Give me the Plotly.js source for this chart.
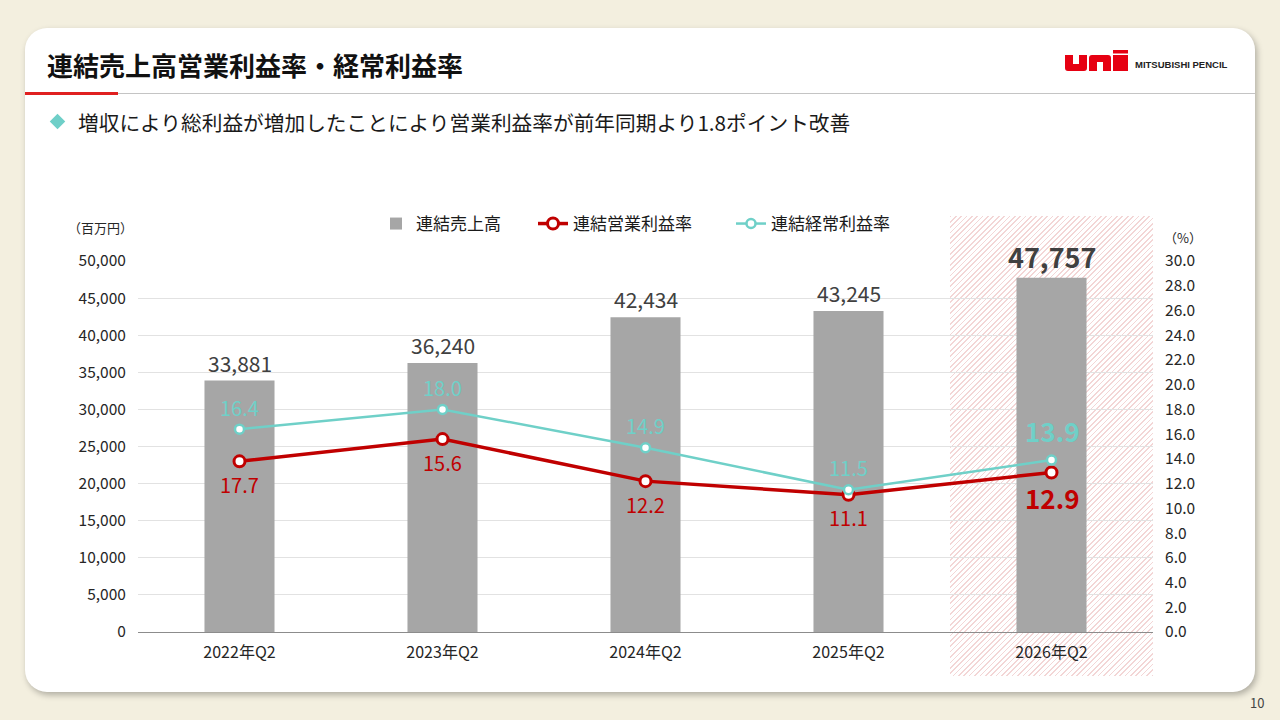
<!DOCTYPE html>
<html><head><meta charset="utf-8">
<script src="https://cdn.plot.ly/plotly-3.0.1.min.js"></script>
<style>
body{margin:0;width:1280px;height:720px;overflow:hidden;background:#f3efdf;font-family:"Noto Sans CJK JP","Noto Sans",sans-serif;position:relative}
#card{position:absolute;left:25px;top:28px;width:1230px;height:664px;background:#fff;border-radius:22px;box-shadow:2px 3px 6px rgba(0,0,0,0.28)}
#title{position:absolute;left:47px;top:47px;font-size:26px;font-weight:700;color:#111;line-height:36px}
#grayline{position:absolute;left:25px;top:93px;width:1230px;height:1px;background:#c4c4c4}
#redline{position:absolute;left:25px;top:92px;width:93px;height:3px;background:#e02020}
#bullet{position:absolute;left:52px;top:116px;width:11px;height:11px;background:#6fcfc8;transform:rotate(45deg)}
#sub{position:absolute;left:78px;top:107px;font-size:20.7px;color:#1a1a1a;line-height:30px}
#logo{position:absolute;left:1065px;top:50px}
#mp{position:absolute;left:1135px;top:59px;font-family:"Liberation Sans",Arial,sans-serif;font-weight:700;font-size:9.5px;color:#222}
#hatch{position:absolute;left:950px;top:216px;width:203px;height:460px;background:repeating-linear-gradient(135deg,#f3d6d6 0px,#f3d6d6 1.2px,#ffffff 1.2px,#ffffff 3.8px)}
#page{position:absolute;left:1250px;top:693px;font-size:13px;color:#444}
#chart{position:absolute;left:0;top:0;width:1280px;height:720px}
</style></head>
<body>
<div id="card"></div>
<div id="title">連結売上高営業利益率・経常利益率</div>
<div id="grayline"></div>
<div id="redline"></div>
<div id="bullet"></div>
<div id="sub">増収により総利益が増加したことにより営業利益率が前年同期より1.8ポイント改善</div>
<svg id="logo" width="64" height="21" viewBox="0 0 64 21">
<path d="M0 5 H8 V14 H14 V5 H22 V18 Q22 21 19 21 H3 Q0 21 0 18 Z" fill="#e60012"/>
<path d="M24 8 Q24 5 27 5 H43 Q46 5 46 8 V21 H38 V12 H32 V21 H24 Z" fill="#e60012"/>
<rect x="48" y="0" width="15" height="3.5" fill="#e60012"/>
<rect x="48" y="5" width="15" height="16" fill="#e60012"/>
</svg>
<div id="mp">MITSUBISHI PENCIL</div>
<div id="hatch"></div>
<div id="page">10</div>
<div id="chart"></div>
<script>
// Data
var categories = ['2022年Q2','2023年Q2','2024年Q2','2025年Q2','2026年Q2'];
var sales = [33881, 36240, 42434, 43245, 47757];
var salesLabels = ['33,881','36,240','42,434','43,245','47,757'];
var opMargin = [13.8, 15.6, 12.2, 11.1, 12.9];          // positions as drawn in the picture
var opMarginLabels = ['17.7','15.6','12.2','11.1','12.9'];
var ordMargin = [16.4, 18.0, 14.9, 11.5, 13.9];
var ordMarginLabels = ['16.4','18.0','14.9','11.5','13.9'];

var RED = '#c00000', TEAL = '#6fd0c8', GRAY = '#a6a6a6';
var FONT = '"Noto Sans CJK JP","Noto Sans",sans-serif';

var traces = [
  {type:'bar', name:'連結売上高', x:categories, y:sales, marker:{color:GRAY}, width:0.345,
   hoverinfo:'skip', legendwidth:112},
  {type:'scatter', mode:'lines+markers', name:'連結営業利益率', x:categories, y:opMargin, yaxis:'y2',
   line:{color:RED, width:3.5}, marker:{size:11, color:'#ffffff', line:{color:RED, width:3}},
   cliponaxis:false, hoverinfo:'skip', legendwidth:153},
  {type:'scatter', mode:'lines+markers', name:'連結経常利益率', x:categories, y:ordMargin, yaxis:'y2',
   line:{color:TEAL, width:2.5}, marker:{size:9, color:'#ffffff', line:{color:TEAL, width:2.5}},
   cliponaxis:false, hoverinfo:'skip'}
];

var ann = [];
var last = categories.length - 1;
categories.forEach(function(c, i){
  var big = (i === last);
  ann.push({x:c, y:sales[i], xref:'x', yref:'y', text:salesLabels[i], showarrow:false,
    xanchor:'center', yanchor:'middle', yshift: big ? 21 : 18,
    font:{family:FONT, size: big ? 27 : 21, color:'#404040', weight: big ? 700 : 400}});
  ann.push({x:c, y:ordMargin[i], xref:'x', yref:'y2', text:ordMarginLabels[i], showarrow:false,
    xanchor:'center', yanchor:'middle', yshift: big ? 30 : 22,
    font:{family:FONT, size: big ? 26 : 20, color:TEAL, weight: big ? 600 : 400}});
  ann.push({x:c, y:opMargin[i], xref:'x', yref:'y2', text:opMarginLabels[i], showarrow:false,
    xanchor:'center', yanchor:'middle', yshift: big ? -25 : -23,
    font:{family:FONT, size: big ? 26 : 20, color:RED, weight: big ? 700 : 400}});
});
ann.push({x:(100-138)/1015, y:(632-228)/371, xref:'paper', yref:'paper', text:'（百万円）', showarrow:false,
  xanchor:'center', yanchor:'middle', font:{family:FONT, size:13, color:'#262626'}});
ann.push({x:(1183-138)/1015, y:(632-238)/371, xref:'paper', yref:'paper', text:'（%）', showarrow:false,
  xanchor:'center', yanchor:'middle', font:{family:FONT, size:13, color:'#262626'}});

var layout = {
  width:1280, height:720,
  margin:{l:138, r:127, t:261, b:88},
  paper_bgcolor:'rgba(0,0,0,0)', plot_bgcolor:'rgba(0,0,0,0)',
  font:{family:FONT, color:'#262626'},
  bargap:0.655,
  showlegend:true,
  legend:{orientation:'h', x:(376-138)/1015, xanchor:'left', y:(632-224)/371, yanchor:'middle',
    font:{family:FONT, size:17, color:'#1a1a1a'}, bgcolor:'rgba(0,0,0,0)', traceorder:'normal'},
  xaxis:{type:'category', range:[-0.5,4.5], showline:true, linecolor:'#8c8c8c', linewidth:1.3,
    ticks:'outside', ticklen:5, tickcolor:'rgba(0,0,0,0)', showgrid:false, zeroline:false,
    tickfont:{family:FONT, size:16, color:'#262626'}, fixedrange:true},
  yaxis:{range:[0,50000], dtick:5000, tickformat:',d', gridcolor:'#e2e2e2', gridwidth:1, zeroline:false,
    ticks:'outside', ticklen:8, tickcolor:'rgba(0,0,0,0)', tickfont:{family:FONT, size:15.5, color:'#262626'}, fixedrange:true},
  yaxis2:{range:[0,30], dtick:2, tickformat:'.1f', overlaying:'y', side:'right', showgrid:false, zeroline:false,
    ticks:'outside', ticklen:8, tickcolor:'rgba(0,0,0,0)', tickfont:{family:FONT, size:15.5, color:'#262626'}, fixedrange:true},
  annotations:ann
};
Plotly.newPlot('chart', traces, layout, {displayModeBar:false, staticPlot:true});
</script>
</body></html>
